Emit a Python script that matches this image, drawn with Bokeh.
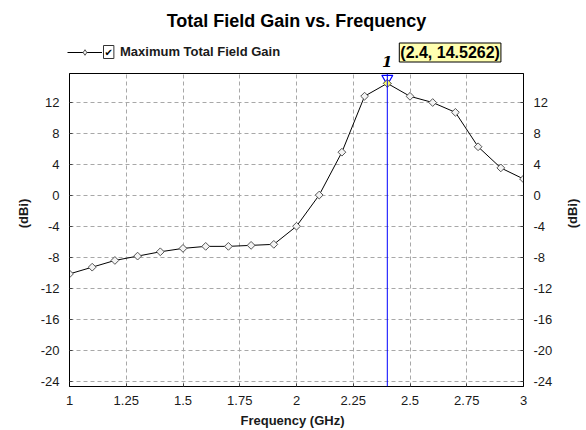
import math
from bokeh.plotting import figure
from bokeh.models import (Range1d, LinearAxis, FixedTicker, Label, Legend,
                          LegendItem, Span)
from bokeh.embed import file_html
from bokeh.resources import INLINE

# ---------------- data ----------------
chart_title = "Total Field Gain vs. Frequency"
series_name = "Maximum Total Field Gain"
x_label = "Frequency (GHz)"
y_label = "(dBi)"

freq = [1.0, 1.1, 1.2, 1.3, 1.4, 1.5, 1.6, 1.7, 1.8, 1.9, 2.0,
        2.1, 2.2, 2.3, 2.4, 2.5, 2.6, 2.7, 2.8, 2.9, 3.0]
gain = [-10.1, -9.23, -8.36, -7.8, -7.24, -6.8, -6.54, -6.54, -6.41, -6.28, -3.94,
        0.09, 5.63, 12.87, 14.5262, 12.85, 12.05, 10.78, 6.33, 3.6, 2.17]

x_ticks = [1, 1.25, 1.5, 1.75, 2, 2.25, 2.5, 2.75, 3]
x_tick_labels = ["1", "1.25", "1.5", "1.75", "2", "2.25", "2.5", "2.75", "3"]
y_ticks = [-24, -20, -16, -12, -8, -4, 0, 4, 8, 12]
y_tick_labels = ["-24", "-20", "-16", "-12", "-8", "-4", "0", "4", "8", "12"]

marker_name = "1"
marker_x = 2.4
marker_y = 14.5262

X_LO, X_HI = 1.0, 3.0
Y_LO, Y_HI = -24.65, 15.8

# ---------------- layout ----------------
W, H = 586, 430
BL, BR, BT, BB = 69, 63, 73, 44
FW, FH = W - BL - BR, H - BT - BB

FONT = "Liberation Sans"
TXT = "#1a1a1a"
NAN = float("nan")

p = figure(width=W, height=H, output_backend="svg", toolbar_location=None,
           x_range=Range1d(X_LO, X_HI), y_range=Range1d(Y_LO, Y_HI),
           min_border_left=BL, min_border_right=BR,
           min_border_top=BT, min_border_bottom=BB,
           background_fill_color="white", border_fill_color="white",
           outline_line_color="black", outline_line_width=1)

p.xaxis.ticker = FixedTicker(ticks=x_ticks)
p.xaxis.major_label_overrides = {float(t): l for t, l in zip(x_ticks, x_tick_labels)}
p.yaxis.ticker = FixedTicker(ticks=y_ticks)

right_axis = LinearAxis(ticker=FixedTicker(ticks=y_ticks))
p.add_layout(right_axis, "right")

for ax in [p.yaxis[0], right_axis]:
    ax.major_label_overrides = {float(t): l for t, l in zip(y_ticks, y_tick_labels)}

for ax in [p.xaxis[0], p.yaxis[0], right_axis]:
    ax.axis_line_color = "black"
    ax.major_tick_in = 3
    ax.major_tick_out = 0
    ax.major_tick_line_color = "#444444"
    ax.minor_tick_line_color = None
    ax.major_label_text_font = FONT
    ax.major_label_text_font_size = "13px"
    ax.major_label_text_color = TXT
    ax.major_label_standoff = 10
p.xaxis.major_label_standoff = 9

p.grid.grid_line_color = "#a8a8a8"
p.grid.grid_line_dash = "4 3"
p.grid.grid_line_width = 1

# ---------------- series ----------------
line_r = p.line(freq, gain, line_color="black", line_width=1)
pts_r = p.scatter(freq, gain, marker="square", angle=math.pi / 4, size=5.5,
                  fill_color="#f4f4f4", line_color="#555555", line_width=1)

# ---------------- marker ----------------
p.add_layout(Span(location=marker_x, dimension="height",
                  line_color="#0000ff", line_width=1))
px_per_unit = FH / (Y_HI - Y_LO)
tri_y = Y_HI - 5.0 / px_per_unit
p.scatter([marker_x], [tri_y], marker="inverted_triangle", size=11,
          fill_color=None, line_color="#0000ff", line_width=1.2)
p.scatter([marker_x], [marker_y], marker="square", angle=math.pi / 4, size=5.5,
          fill_color="#ffff66", line_color="#666666")

# ---------------- overlay for texts outside the frame ----------------
ov = figure(width=W, height=H, output_backend="svg", toolbar_location=None,
            x_range=Range1d(0, W), y_range=Range1d(0, H),
            min_border=0, x_axis_location=None, y_axis_location=None,
            background_fill_alpha=0, border_fill_alpha=0,
            outline_line_color=None)
ov.grid.visible = False
ov.styles = {"position": "absolute", "left": "0px", "top": "0px"}

marker_px = BL + (marker_x - X_LO) * FW / (X_HI - X_LO)

ov.add_layout(Label(x=296, y=H - 20.5, text=chart_title, text_align="center",
                    text_baseline="middle", text_font=FONT, text_font_style="bold",
                    text_font_size="18px", text_color="black"))

ov.add_layout(Label(x=292, y=H - 420, text=x_label, text_align="center",
                    text_baseline="middle", text_font=FONT, text_font_style="bold",
                    text_font_size="13px", text_color=TXT))

for lx in (22.5, 571.5):
    ov.add_layout(Label(x=lx, y=H - 213, text=y_label, angle=math.pi / 2,
                        text_align="center", text_baseline="middle",
                        text_font=FONT, text_font_style="bold",
                        text_font_size="13px", text_color=TXT))

ov.add_layout(Label(x=marker_px, y=H - 61, text=marker_name, text_align="center",
                    text_baseline="middle", text_font="DejaVu Serif",
                    text_font_style="bold italic", text_font_size="15px",
                    text_color="black"))

ov.add_layout(Label(x=marker_px + 12, y=H - 52,
                    text=f"({marker_x}, {marker_y})", text_align="left",
                    text_baseline="middle", text_font=FONT,
                    text_font_style="bold", text_font_size="16px",
                    text_color="black", background_fill_color="#ffffb0",
                    border_line_color="black", border_line_width=1, padding=1))

# legend proxies (hidden single-point renderers styled like the series)
lg_line = ov.line([NAN], [NAN], line_color="black", line_width=1)
lg_pts = ov.scatter([NAN], [NAN], marker="diamond", size=9,
                    fill_color="#f4f4f4", line_color="#555555", line_width=1)
legend = Legend(items=[LegendItem(label=series_name, renderers=[lg_line, lg_pts])],
                location=(67, H - 59), glyph_width=35, glyph_height=14,
                label_height=14, label_standoff=18, padding=0, margin=0,
                spacing=0, border_line_alpha=0, background_fill_alpha=0,
                label_text_font=FONT, label_text_font_style="bold",
                label_text_font_size="13px", label_text_color=TXT)
ov.add_layout(legend)

ov.add_layout(Label(x=103, y=H - 58, text="\u2714", text_align="left",
                    text_baseline="bottom", text_font="DejaVu Sans",
                    text_font_size="10px",
                    text_color="black", border_line_color="#333333",
                    background_fill_color="white", padding=1))

open("out.html", "w").write(file_html([p, ov], INLINE))
